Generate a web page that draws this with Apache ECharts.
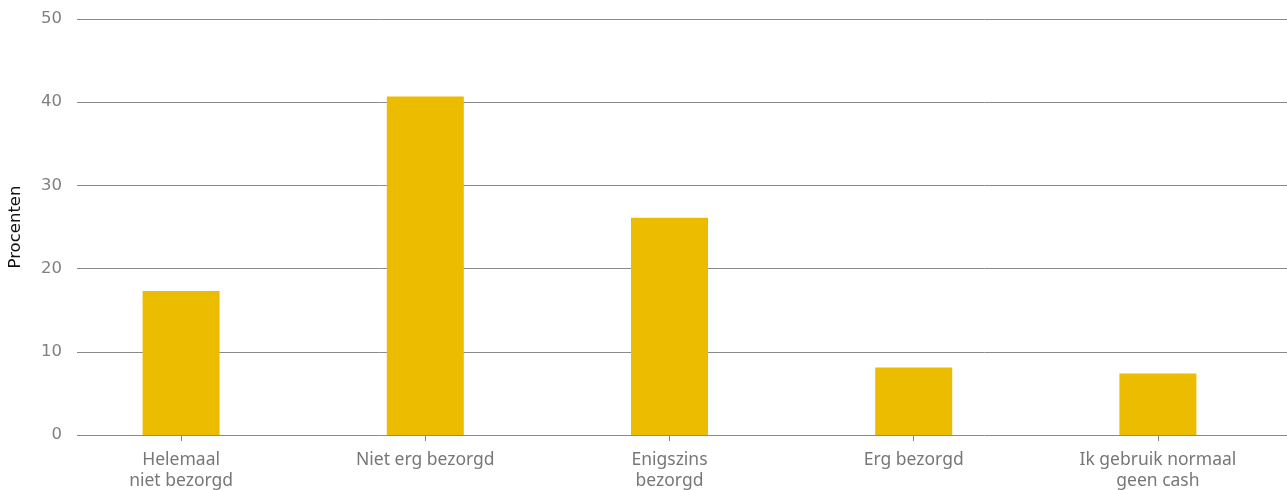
<!DOCTYPE html>
<html><head><meta charset="utf-8">
<script src="https://cdn.jsdelivr.net/npm/echarts@6/dist/echarts.min.js"></script>
<style>html,body{margin:0;padding:0;background:#fff}#c{width:1287px;height:490px}</style>
</head><body><div id="c"></div>
<script>
const categories = ["Helemaal\nniet bezorgd", "Niet erg bezorgd", "Enigszins\nbezorgd", "Erg bezorgd", "Ik gebruik normaal\ngeen cash"];
const values = [17.3, 40.7, 26.1, 8.1, 7.4];
const yTicks = [0, 10, 20, 30, 40, 50];
const yTitle = "Procenten";

const chart = echarts.init(document.getElementById('c'));
chart.setOption({
  animation: false,
  grid: [
    {left: 77, right: 0, top: 19, bottom: 55, containLabel: false, outerBoundsMode: 'none'},
    {left: 59, right: 7, top: 19, bottom: 55, containLabel: false, outerBoundsMode: 'none'}
  ],
  xAxis: [
    {gridIndex: 0, type: 'category', data: categories, show: false},
    {gridIndex: 1, type: 'category', data: categories,
     axisLine: {show: true, lineStyle: {color: 'rgba(0,0,0,0)'}},
     axisTick: {show: true, alignWithLabel: true, length: 6, lineStyle: {color: '#888', width: 1}},
     axisLabel: {color: '#777', fontSize: 17.5, fontFamily: 'Noto Sans', lineHeight: 21, margin: 15, interval: 0}}
  ],
  yAxis: [
    {gridIndex: 0, type: 'value', min: yTicks[0], max: yTicks[yTicks.length-1], interval: 10,
     name: yTitle, nameLocation: 'middle', nameGap: 53, nameRotate: 90,
     nameTextStyle: {color: '#111', fontSize: 16.5, fontFamily: 'DejaVu Sans'},
     axisLine: {show: false}, axisTick: {show: false},
     axisLabel: {color: '#808080', fontSize: 16.5, fontFamily: 'DejaVu Sans', margin: 15},
     splitLine: {show: true, lineStyle: {color: '#8a8a8a', width: 1}}},
    {gridIndex: 1, type: 'value', min: yTicks[0], max: yTicks[yTicks.length-1], interval: 10, show: false}
  ],
  series: [
    {type: 'bar', xAxisIndex: 1, yAxisIndex: 1, data: values, barWidth: 77,
     itemStyle: {color: '#EBBC00'}}
  ]
});
</script></body></html>
